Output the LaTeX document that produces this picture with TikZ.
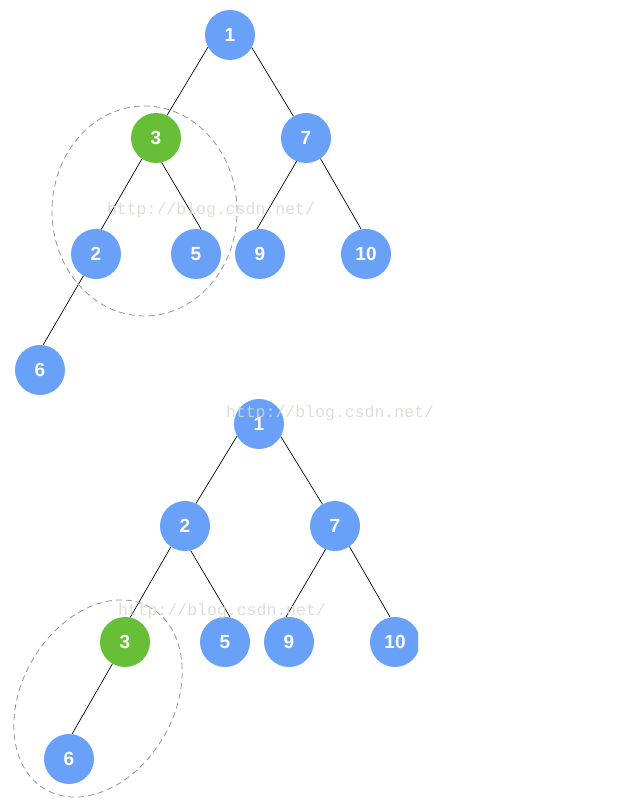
\documentclass[tikz,border=0pt]{standalone}
\usepackage{fontspec}
\setmainfont{Liberation Sans}
\newfontfamily\wmfont{Liberation Mono}
\definecolor{nodeblue}{HTML}{69A1F9}
\definecolor{nodegreen}{HTML}{66BF37}
\definecolor{wmgray}{HTML}{D8D8D2}
\tikzset{
  tn/.style={circle, fill=nodeblue, minimum size=50pt, inner sep=0pt, text=white, font=\fontsize{19}{21}\selectfont\bfseries},
  tg/.style={tn, fill=nodegreen},
  edge/.style={draw=black, line width=0.7pt},
  ring/.style={draw=black!42, line width=0.8pt, dash pattern=on 6pt off 4pt},
  wm/.style={text=wmgray, font=\wmfont\fontsize{16.5}{18}\selectfont, opacity=0.85}
}
\begin{document}
\begin{tikzpicture}[x=1pt,y=1pt]
\useasboundingbox (0,0) rectangle (643,806);
% top tree (y = 806 - pixel y)
\node[tn] (a1) at (230,771) {1};
\node[tg] (a3) at (156,668) {3};
\node[tn] (a7) at (306,668) {7};
\node[tn] (a2) at (96,552) {2};
\node[tn] (a5) at (196,552) {5};
\node[tn] (a9) at (260,552) {9};
\node[tn] (a10) at (366,552) {10};
\node[tn] (a6) at (40,436) {6};
\draw[edge] (a1.209) -- (a3.64);
\draw[edge] (a1.330) -- (a7.120);
\draw[edge] (a3.236) -- (a2.78);
\draw[edge] (a3.283) -- (a5.78);
\draw[edge] (a7.248) -- (a9.97);
\draw[edge] (a7.305) -- (a10.101);
\draw[edge] (a2.240) -- (a6.83);
\draw[ring] (144.5,595) ellipse [x radius=92.5, y radius=105];
% bottom tree
\node[tn] (b1) at (259,382) {1};
\node[tn] (b2) at (185,280) {2};
\node[tn] (b7) at (335,280) {7};
\node[tg] (b3) at (125,164) {3};
\node[tn] (b5) at (225,164) {5};
\node[tn] (b9) at (289,164) {9};
\begin{scope}
\clip (300,100) rectangle (418,230);
\node[tn] (b10) at (395,164) {10};
\end{scope}
\node[tn] (b6) at (69,47) {6};
\draw[edge] (b1.209) -- (b2.64);
\draw[edge] (b1.330) -- (b7.120);
\draw[edge] (b2.236) -- (b3.78);
\draw[edge] (b2.283) -- (b5.78);
\draw[edge] (b7.248) -- (b9.97);
\draw[edge] (b7.305) -- (b10.101);
\draw[edge] (b3.240) -- (b6.83);
\draw[ring] (98,107.5) ellipse [x radius=105, y radius=76, rotate=60];
% watermarks
\node[wm] (w1) at (211,596) {http://blog.csdn.net/};
\node[wm] (w2) at (330,393) {http://blog.csdn.net/};
\node[wm] (w3) at (222,195) {http://blog.csdn.net/};
\end{tikzpicture}
\end{document}
